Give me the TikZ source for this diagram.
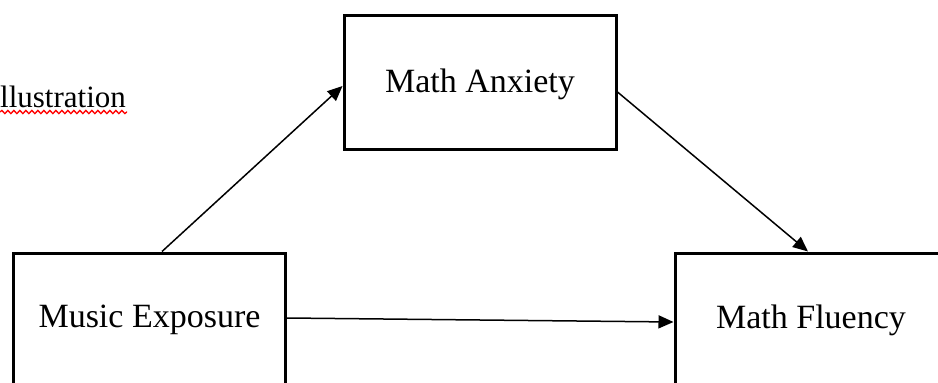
\documentclass[tikz,border=0pt]{standalone}
\usepackage{fontspec}
\setmainfont{Liberation Serif}
\usetikzlibrary{arrows.meta,decorations.pathmorphing}
\begin{document}
\begin{tikzpicture}[x=1pt,y=-1pt,
  box/.style={draw=black, line width=3pt, minimum width=272pt, minimum height=134pt,
    inner sep=0pt, font=\fontsize{34}{40}\selectfont},
  arr/.style={draw=black, line width=1.5pt, -{Triangle[length=15pt,width=13pt]}},
  squig/.style={draw=red, line width=1.3pt, decorate,
    decoration={snake, amplitude=1.6pt, segment length=6pt}}]
\useasboundingbox (0,0) rectangle (938,383);
\node[anchor=base west, inner sep=0pt, font=\fontsize{31}{38}\selectfont] (ill) at (0,107) {llustration};
\coordinate (sqa) at (0,112);
\coordinate (sqb) at (127,112);
\draw[squig] (sqa) -- (sqb);
\node[box, text depth=2pt] (ma) at (480,82) {Math Anxiety};
\node[box] (me) at (149.5,320) {Music Exposure};
\node[box] (mf) at (811,320) {Math Fluency};
\draw[arr] ([xshift=150pt]me.north west) -- ([yshift=-4pt]ma.west);
\draw[arr] ([yshift=-10pt]ma.east) -- ([xshift=-3pt]mf.north);
\draw[arr] ([yshift=2pt]me.east) -- ([yshift=-2pt]mf.west);
\end{tikzpicture}
\end{document}
